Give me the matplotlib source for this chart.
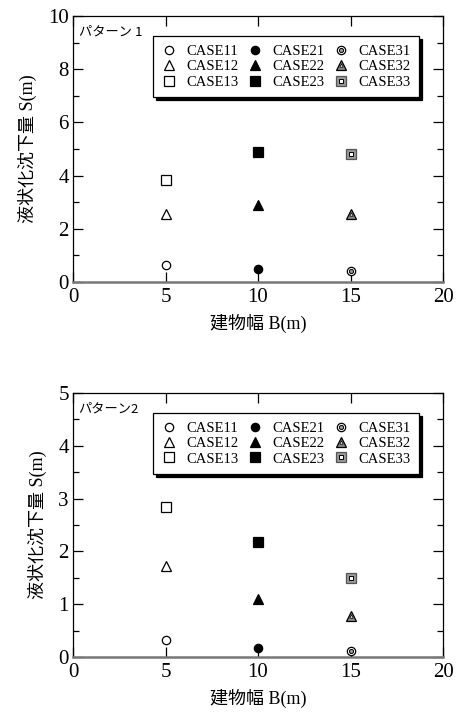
import matplotlib.pyplot as plt
from matplotlib.lines import Line2D
from matplotlib.legend_handler import HandlerTuple
from matplotlib.ticker import MultipleLocator

plt.rcParams['font.family'] = ['Liberation Serif', 'Noto Sans CJK JP']

widths = [5, 10, 15]
cases = [["CASE11", "CASE12", "CASE13"],
         ["CASE21", "CASE22", "CASE23"],
         ["CASE31", "CASE32", "CASE33"]]
# settlement S(m), rows = width B, cols = case type (11/12/13 etc.)
settle_p1 = [[0.65, 2.55, 3.85],
             [0.50, 2.88, 4.90],
             [0.42, 2.55, 4.80]]
settle_p2 = [[0.33, 1.72, 2.85],
             [0.17, 1.10, 2.18],
             [0.11, 0.77, 1.49]]
titles = ["パターン 1", "パターン2"]
ylims = [10, 5]
ymajor = [2, 1]
yminor = [1, 0.5]

jp = ['Noto Sans CJK JP', 'Liberation Serif']


def marker_styles(i, j):
    # returns list of marker kwargs layered on top of each other
    shapes = ['o', '^', 's']
    sizes = [6.0, 6.5, 6.8]
    m = shapes[j]
    ms = sizes[j]
    if i == 0:
        return [dict(marker=m, ms=ms, mfc='white', mec='black', mew=0.9)]
    if i == 1:
        return [dict(marker=m, ms=ms, mfc='black', mec='black', mew=0.9)]
    if j == 0:
        return [dict(marker='o', ms=ms, mfc='white', mec='black', mew=0.9),
                dict(marker='o', ms=3.0, mfc='#999999', mec='black', mew=0.7)]
    if j == 1:
        return [dict(marker='^', ms=ms, mfc='#888888', mec='black', mew=0.9),
                dict(marker='^', ms=2.5, mfc='#dddddd', mec='black', mew=0.5)]
    return [dict(marker='s', ms=ms, mfc='#999999', mec='#555555', mew=0.9),
            dict(marker='s', ms=3.0, mfc='white', mec='black', mew=0.7)]


fig = plt.figure(figsize=(4.72, 7.16), dpi=100)
axes = [fig.add_axes([0.1547, 0.6061, 0.784, 0.3715]),
        fig.add_axes([0.1547, 0.0824, 0.784, 0.3687])]

for k, (ax, data) in enumerate(zip(axes, [settle_p1, settle_p2])):
    handles = []
    labels = []
    for i in range(3):
        for j in range(3):
            layers = marker_styles(i, j)
            hs = []
            for st in layers:
                ax.plot([widths[i]], [data[i][j]], ls='none', zorder=3, **st)
                hs.append(Line2D([], [], ls='none', **st))
            handles.append(tuple(hs))
            labels.append(cases[i][j])

    ax.set_xlim(0, 20)
    ax.set_ylim(0, ylims[k])
    ax.xaxis.set_major_locator(MultipleLocator(5))
    ax.yaxis.set_major_locator(MultipleLocator(ymajor[k]))
    ax.yaxis.set_minor_locator(MultipleLocator(yminor[k]))
    ax.tick_params(which='both', direction='in', top=True, right=True,
                   labelsize=15, width=0.9)
    ax.tick_params(which='major', length=7)
    ax.tick_params(which='minor', length=4)
    ax.tick_params(axis='x', pad=4)
    ax.tick_params(axis='y', pad=3)
    for side in ['left', 'top', 'right']:
        ax.spines[side].set_linewidth(0.9)
    ax.spines['bottom'].set_color('#777777')
    ax.spines['bottom'].set_linewidth(1.8)

    ax.set_xlabel("建物幅 B(m)", fontsize=13, labelpad=5)
    ax.set_ylabel("液状化沈下量 S(m)", fontsize=13, labelpad=8)
    ax.text(0.015, 0.965, titles[k], transform=ax.transAxes, fontsize=9.5,
            family=jp, va='top', ha='left')

    leg = ax.legend(handles, labels, ncol=3, loc='upper right',
                    bbox_to_anchor=(0.935, 0.925), fontsize=10.5,
                    handler_map={tuple: HandlerTuple(ndivide=1)},
                    frameon=True, fancybox=False, edgecolor='black',
                    framealpha=1, shadow={'color': 'black', 'alpha': 1},
                    handlelength=1.0, handletextpad=0.7, columnspacing=0.6,
                    labelspacing=0.15, borderpad=0.6, borderaxespad=0)
    leg.get_frame().set_linewidth(0.9)

fig.savefig("out.png", dpi=100)
